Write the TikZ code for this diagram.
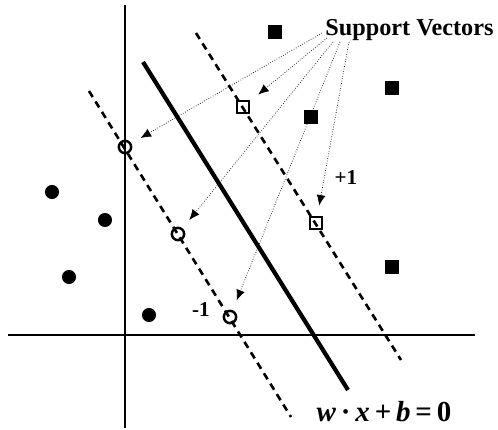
\documentclass[tikz,border=0pt]{standalone}
\usepackage{fontspec}
\setmainfont{Liberation Serif}
\usetikzlibrary{arrows.meta}

\begin{document}
\begin{tikzpicture}[
      x=0.02cm, y=-0.02cm,
      font=\bfseries,
      axis/.style={line width=1.1pt},
      margin/.style={line width=1.5pt, dash pattern=on 4pt off 3pt},
      hyper/.style={line width=2.4pt},
      negpt/.style={circle, fill=black, inner sep=0pt, minimum size=8pt},
      pospt/.style={rectangle, fill=black, inner sep=0pt, minimum size=7.8pt},
      negsv/.style={circle, draw, line width=1.4pt, inner sep=0pt, minimum size=7pt},
      possv/.style={rectangle, draw, line width=1.2pt, inner sep=0pt, minimum size=6.8pt},
      pointer/.style={densely dotted, thin, -{Latex[length=6pt,width=5pt]}, shorten >=6pt}
    ]
      \useasboundingbox (0,0) rectangle (498,430);
      % axes
      \draw[axis] (8,335) -- (475,335);
      \draw[axis] (125,5) -- (125,428);
      % separating line and margins
      \draw[hyper] (143,62) -- (348,390);
      \draw[margin] (89,91) -- (291,417);
      \draw[margin] (196,33) -- (401,360);
      % class -1
      \node[negpt] (n1) at (52,192) {};
      \node[negpt] (n2) at (105,220) {};
      \node[negpt] (n3) at (69,277) {};
      \node[negpt] (n4) at (149,315) {};
      \node[negsv] (c1) at (125,147) {};
      \node[negsv] (c2) at (178,234) {};
      \node[negsv] (c3) at (230,317) {};
      % class +1
      \node[pospt] (p1) at (275,32) {};
      \node[pospt] (p2) at (392,88) {};
      \node[pospt] (p3) at (311,117) {};
      \node[pospt] (p4) at (392,267) {};
      \node[possv] (s1) at (243,107) {};
      \node[possv] (s2) at (316,223) {};
      % labels
      \node[anchor=base west, inner sep=0pt, font=\fontsize{13.8}{16}\selectfont\bfseries] (sv) at (325,35) {Support Vectors};
      \node[font=\fontsize{12}{14}\selectfont\bfseries] (plus) at (346,178) {+1};
      \node[font=\fontsize{12}{14}\selectfont\bfseries] (minus) at (201,310) {-1};
      \node[font=\fontsize{16.5}{18}\selectfont\bfseries] (eq) at (384,412) {\textit{w}\,·\,\textit{x}\,+\,\textit{b}\,=\,0};
      % pointers
      \coordinate (a1) at (322,33);
      \coordinate (a2) at (327,38);
      \coordinate (a3) at (333,42);
      \coordinate (a4) at (340,42);
      \coordinate (a5) at (349,42);
      \draw[pointer] (a1) -- (c1);
      \draw[pointer] (a2) -- (s1);
      \draw[pointer] (a3) -- (c2);
      \draw[pointer] (a4) -- (c3);
      \draw[pointer] (a5) -- (s2);
    \end{tikzpicture}
\end{document}
